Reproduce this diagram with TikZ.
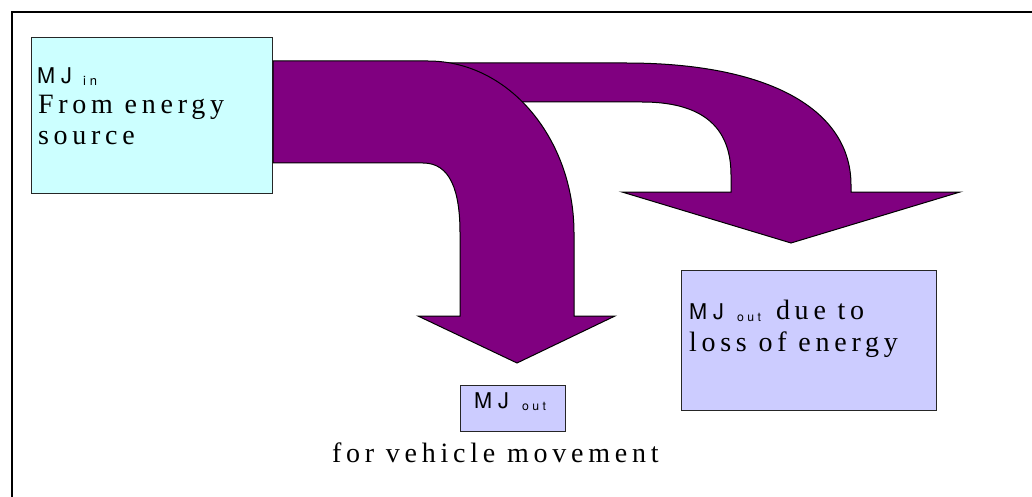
\documentclass[tikz,border=0pt]{standalone}
\usepackage{fontspec}
\usepackage{graphicx}
\setmainfont{Liberation Serif}
\newfontfamily\serifsp[LetterSpace=17]{Liberation Serif}
\newfontfamily\heros{TeX Gyre Heros}
\definecolor{arrowpurple}{HTML}{800080}
\definecolor{cyanfill}{HTML}{CCFFFF}
\definecolor{lavfill}{HTML}{CCCCFF}
\newcommand{\serifbig}{\serifsp\fontsize{28}{33}\selectfont}
\newcommand{\mjtxt}{\resizebox{35pt}{!}{\heros M\hspace{0.28em}J}}
\newcommand{\intxt}{\resizebox{14pt}{!}{\heros i\hspace{0.3em}n}}
\newcommand{\outtxt}{\resizebox{24pt}{!}{\heros o\hspace{0.28em}u\hspace{0.28em}t}}
\begin{document}
\begin{tikzpicture}[x=1pt,y=-1pt,
  box/.style={draw=black!85, line width=1pt, rectangle, inner sep=0pt, anchor=north west},
  bigarrow/.style={fill=arrowpurple, draw=black, line width=1pt, line join=miter},
  txt/.style={anchor=base west, inner sep=0pt, outer sep=0pt},
  frameline/.style={draw=black, line width=2.2pt}]
\useasboundingbox (0,0) rectangle (1032,497);
% frame (top and left only)
\coordinate (ftl) at (12,12);
\coordinate (ftr) at (1032,12);
\coordinate (fbl) at (12,497);
\draw[frameline] (ftr) -- (ftl) -- (fbl);

% boxes
\node[box, fill=cyanfill, minimum width=241pt, minimum height=156pt] (src) at (31,37) {};
\node[box, fill=lavfill, minimum width=255pt, minimum height=140pt] (loss) at (681,270) {};
\node[box, fill=lavfill, minimum width=105pt, minimum height=46pt] (move) at (460,385) {};

% second (loss) arrow, behind
\draw[bigarrow] (400,63) -- (626,63) .. controls (770,63) and (851,110) .. (851,185)
  -- (851,192) -- (960,192) -- (791,243) -- (622,192) -- (731,192) -- (731,175)
  .. controls (731,125) and (700,102) .. (642,102) -- (400,102) -- cycle;
% main arrow
\draw[bigarrow] (src.east |- 0,61) -- (428,61) .. controls (510,61) and (574,140) .. (574,233)
  -- (574,316) -- (615,316) -- (517,363) -- (418,316) -- (460,316) -- (460,233)
  .. controls (460,190) and (450,163) .. (423,163) -- (src.east |- 0,163) -- cycle;

% texts in source box
\node[txt] (mj1) at (37,84) {\mjtxt};
\node[txt] (sub1) at (83,86) {\intxt};
\node[txt] (t2) at (38,114) {\serifbig From energy};
\node[txt] (t3) at (38,144.5) {\serifbig source};
% small box
\node[txt] (mj2) at (474,408) {\mjtxt};
\node[txt] (sub2) at (522,410) {\outtxt};
% loss box
\node[txt] (mj3) at (689,319.5) {\mjtxt};
\node[txt] (sub3) at (737,321) {\outtxt};
\node[txt] (t5) at (776,319.5) {\serifbig due to};
\node[txt] (t6) at (689,351.5) {\serifbig loss of energy};
% caption
\node[txt] (t7) at (332,462) {\serifbig for vehicle movement};
\end{tikzpicture}
\end{document}
